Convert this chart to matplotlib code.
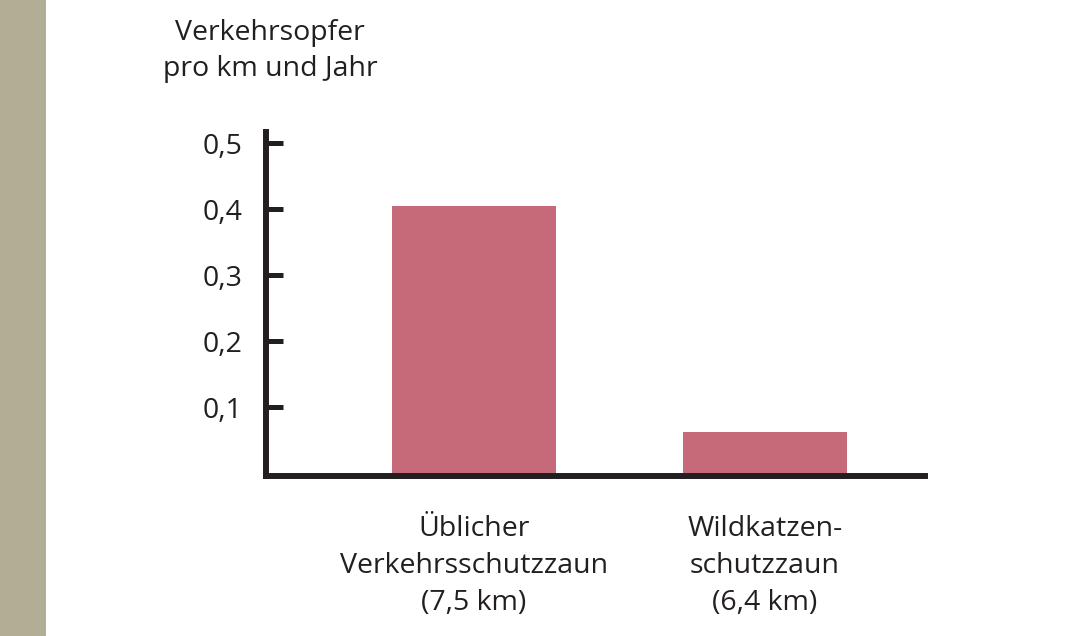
import matplotlib
matplotlib.use("Agg")
import matplotlib.pyplot as plt
from matplotlib.patches import Rectangle

categories = ["Üblicher\nVerkehrsschutzzaun\n(7,5 km)", "Wildkatzen-\nschutzzaun\n(6,4 km)"]
values = [0.405, 0.062]
yticks = [0.1, 0.2, 0.3, 0.4, 0.5]
yticklabels = ["0,1", "0,2", "0,3", "0,4", "0,5"]
ylabel = "Verkehrsopfer\npro km und Jahr"

W, H = 1079, 636
fig = plt.figure(figsize=(W / 100, H / 100), dpi=100)
plt.rcParams['font.family'] = ['Open Sans', 'DejaVu Sans']
FS = 20.5
dark = "#231f20"
bar_color = "#c66a79"

# left band
fig.patches.append(Rectangle((0, 0), 46 / W, 1, transform=fig.transFigure,
                             facecolor="#b1ae95", edgecolor="none", zorder=0))

x0, x1 = 266, 925
ytop, ybot = 132, 476
ax = fig.add_axes([x0 / W, 1 - ybot / H, (x1 - x0) / W, (ybot - ytop) / H])

pos = [0, 1]
ax.bar(pos, values, width=0.5636, color=bar_color, zorder=1)
ax.set_xlim(-0.7148, 1.5498)
ax.set_ylim(-0.004545, 0.5167)

for s in ["top", "right"]:
    ax.spines[s].set_visible(False)
for s in ["left", "bottom"]:
    ax.spines[s].set_linewidth(4.3)
    ax.spines[s].set_color(dark)
    ax.spines[s].set_capstyle("projecting")
    ax.spines[s].set_zorder(3)

ax.set_yticks(yticks)
ax.set_yticklabels(yticklabels)
ax.tick_params(axis="y", direction="in", length=12, width=3.6, color=dark,
               labelsize=FS, labelcolor=dark, pad=17)
ax.set_xticks(pos)
ax.set_xticklabels(categories)
ax.tick_params(axis="x", length=0, labelsize=FS, labelcolor=dark, pad=28)
for lbl in ax.get_xticklabels():
    lbl.set_linespacing(1.42)
    lbl.set_horizontalalignment("center")

fig.text(270 / W, 1 - 51 / H, ylabel, ha="center", va="center", fontsize=FS,
         color=dark, linespacing=1.42)

fig.savefig("out.png", dpi=100, facecolor="white")
